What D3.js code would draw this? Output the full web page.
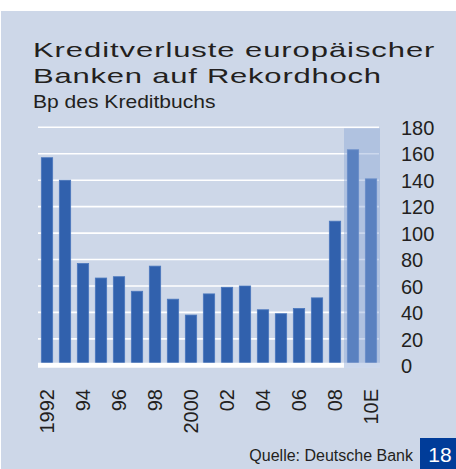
<!DOCTYPE html>
<html>
<head>
<meta charset="utf-8">
<script src="https://cdn.jsdelivr.net/npm/d3@7"></script>
<style>
  body { margin: 0; background: #fff; }
  text { font-family: "Liberation Sans", Arial, sans-serif; fill: #231f20; }
</style>
</head>
<body>
<div id="chart-area"></div>
<script>
var years = ["1992","1993","1994","1995","1996","1997","1998","1999","2000","2001",
             "2002","2003","2004","2005","2006","2007","2008","2009","2010"];
var losses = [157, 140, 77, 66, 67, 56, 75, 50, 38, 54, 59, 60, 42, 39, 43, 51, 109, 163, 141];
var forecastYears = ["2009", "2010"];
var yTicks = [0, 20, 40, 60, 80, 100, 120, 140, 160, 180];
var xTickYears = ["1992","1994","1996","1998","2000","2002","2004","2006","2008","2010"];
var xTickLabels = ["1992","94","96","98","2000","02","04","06","08","10E"];

var width = 456;
var height = 469;

var svg = d3.select('#chart-area')
  .append('svg')
  .attr('width', width)
  .attr('height', height);

// panel background
svg.append("rect")
  .attr("x", 1).attr("y", 11)
  .attr("width", width - 1).attr("height", height - 11)
  .attr("fill", "#cdd7e8");

// titles (the original type is a wide face, so stretch it)
svg.append("text")
  .attr("transform", "translate(33, 57) scale(1.55, 1)")
  .attr("font-size", "20px")
  .attr("letter-spacing", "0.6px")
  .text("Kreditverluste europäischer");

svg.append("text")
  .attr("transform", "translate(33, 83) scale(1.55, 1)")
  .attr("font-size", "20px")
  .attr("letter-spacing", "0.5px")
  .text("Banken auf Rekordhoch");

svg.append("text")
  .attr("transform", "translate(33, 108) scale(1.17, 1)")
  .attr("font-size", "18px")
  .text("Bp des Kreditbuchs");

var xScale = d3.scaleBand()
  .domain(years)
  .range([38, 380])
  .paddingInner(0.37)
  .paddingOuter(0.185);

var yScale = d3.scaleLinear()
  .domain([0, 180])
  .range([365.3, 127.3]);

// gridlines
svg.append("g").selectAll("line")
  .data(yTicks.filter(function(d) { return d > 0; }))
  .enter().append("line")
  .attr("x1", 38).attr("x2", 379)
  .attr("y1", function(d) { return yScale(d); })
  .attr("y2", function(d) { return yScale(d); })
  .attr("stroke", "#fff")
  .attr("stroke-width", 1.6);

// bars
svg.append("g").selectAll("rect")
  .data(losses)
  .enter().append("rect")
  .attr("x", function(d, i) { return xScale(years[i]); })
  .attr("y", function(d) { return yScale(d); })
  .attr("width", xScale.bandwidth())
  .attr("height", function(d) { return yScale(0) - yScale(d); })
  .attr("fill", "#3161ad")
  .attr("stroke", "#4b78bd")
  .attr("stroke-width", 0.8);

// baseline
svg.append("line")
  .attr("x1", 38).attr("x2", 380)
  .attr("y1", yScale(0)).attr("y2", yScale(0))
  .attr("stroke", "#fff")
  .attr("stroke-width", 5);

// forecast shading
var step = xScale.step();
var shadeX = xScale(forecastYears[0]) - step * xScale.paddingInner() / 2;
svg.append("rect")
  .attr("x", shadeX)
  .attr("y", yScale(180) + 1)
  .attr("width", 380 - shadeX)
  .attr("height", yScale(0) + 2.5 - (yScale(180) + 1))
  .attr("fill", "#8fa8d8")
  .attr("opacity", 0.45);

// y axis on the right
var yAxis = d3.axisRight(yScale).tickValues(yTicks).tickSize(0).tickPadding(0);
var yG = svg.append("g")
  .attr("transform", "translate(401, 0)")
  .call(yAxis);
yG.select(".domain").remove();
yG.selectAll("text")
  .attr("font-size", "20px")
  .attr("font-family", "Liberation Sans, Arial, sans-serif")
  .attr("fill", "#231f20")
  .attr("dy", "0.36em");

// x labels, rotated
svg.append("g").selectAll("text")
  .data(xTickYears)
  .enter().append("text")
  .attr("transform", function(d) {
    return "translate(" + (xScale(d) + xScale.bandwidth() / 2) + ", 389) rotate(-90)";
  })
  .attr("text-anchor", "end")
  .attr("dy", "0.36em")
  .attr("font-size", "20px")
  .text(function(d, i) { return xTickLabels[i]; });

// source and page number
svg.append("text")
  .attr("x", 413).attr("y", 461)
  .attr("text-anchor", "end")
  .attr("font-size", "16px")
  .text("Quelle: Deutsche Bank");

svg.append("rect")
  .attr("x", 420).attr("y", 438)
  .attr("width", 36).attr("height", 31)
  .attr("fill", "#003c99");

svg.append("text")
  .attr("x", 440).attr("y", 462)
  .attr("text-anchor", "middle")
  .attr("font-size", "21px")
  .style("fill", "#fff")
  .text("18");
</script>
</body>
</html>
